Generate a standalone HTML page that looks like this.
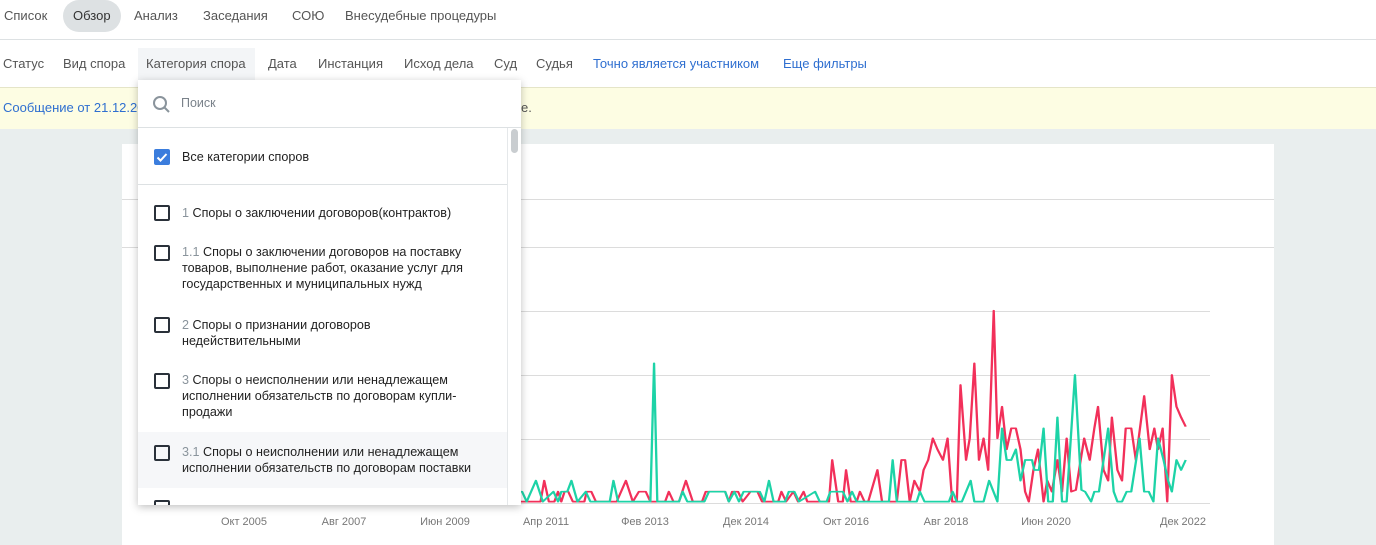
<!DOCTYPE html>
<html><head><meta charset="utf-8"><style>
body{margin:0;width:1376px;height:545px;overflow:hidden;background:#e9eeee;font-family:"Liberation Sans",sans-serif;position:relative}
.a{position:absolute;white-space:nowrap}
.t{font-size:13px;color:#555}
.it{font-size:12.6px;color:#222;line-height:16px;position:absolute;left:44px;width:316px;white-space:normal}
.it span{color:#8a949c}
.cb{position:absolute;left:16px;width:12px;height:12px;border:2px solid #2a313a;border-radius:2px}
.xl{font-size:11px;color:#777;position:absolute;top:516px;transform:translateX(-50%)}
</style></head><body>
<div class="a" style="left:0;top:0;width:1376px;height:87px;background:#fff"></div>
<div class="a" style="left:0;top:39px;width:1376px;height:1px;background:#dde1e3"></div>
<div class="a" style="left:63px;top:0;width:58px;height:32px;background:#dde1e3;border-radius:16px"></div>
<div class="a t" style="left:4px;top:8px">Список</div>
<div class="a t" style="left:73px;top:8px;color:#333">Обзор</div>
<div class="a t" style="left:134px;top:8px">Анализ</div>
<div class="a t" style="left:203px;top:8px">Заседания</div>
<div class="a t" style="left:292px;top:8px">СОЮ</div>
<div class="a t" style="left:345px;top:8px">Внесудебные процедуры</div>
<div class="a" style="left:138px;top:48px;width:117px;height:32px;background:#f3f5f7"></div>
<div class="a t" style="left:3px;top:56px">Статус</div>
<div class="a t" style="left:63px;top:56px">Вид спора</div>
<div class="a t" style="left:146px;top:56px">Категория спора</div>
<div class="a t" style="left:268px;top:56px">Дата</div>
<div class="a t" style="left:318px;top:56px">Инстанция</div>
<div class="a t" style="left:404px;top:56px">Исход дела</div>
<div class="a t" style="left:494px;top:56px">Суд</div>
<div class="a t" style="left:536px;top:56px">Судья</div>
<div class="a t" style="left:593px;top:56px;color:#2f6fd0">Точно является участником</div>
<div class="a t" style="left:783px;top:56px;color:#2f6fd0">Еще фильтры</div>
<div class="a" style="left:0;top:87px;width:1376px;height:41px;background:#fdfde3;border-top:1px solid #e5e5c8"></div>
<div class="a t" style="left:3px;top:100px;color:#2f6fd0">Сообщение от 21.12.20</div>
<div class="a t" style="left:521px;top:100px">е.</div>
<div class="a" style="left:122px;top:144px;width:1152px;height:401px;background:#fff"></div>
<div class="a" style="left:122px;top:199px;width:1152px;height:1px;background:#dcdcdc"></div>
<div class="a" style="left:122px;top:247px;width:1152px;height:1px;background:#dcdcdc"></div>
<svg class="a" style="left:0;top:0" width="1376" height="545">
<g stroke="#dcdcdc" stroke-width="1"><line x1="213" y1="311.5" x2="1210" y2="311.5"/><line x1="213" y1="375.5" x2="1210" y2="375.5"/><line x1="213" y1="439.5" x2="1210" y2="439.5"/><line x1="213" y1="503.5" x2="1210" y2="503.5"/></g>
<g transform="translate(499,290) scale(0.4615,0.3333)" fill="none" stroke-linejoin="round">
<polyline stroke="#f2305a" stroke-width="5" points="-700,635 50,635 90,635 98,572 108,635 120,635 128,605 135,635 142,605 150,605 160,635 185,635 190,605 200,605 210,635 255,635 275,572 290,635 303,605 318,605 328,635 360,635 368,605 378,635 390,635 405,572 420,635 440,635 448,605 490,605 498,635 505,605 518,605 528,635 545,605 560,605 570,635 605,635 612,605 622,635 638,605 648,635 660,605 668,635 715,635 722,510 735,635 745,635 752,540 762,635 775,635 782,605 792,635 800,635 820,540 830,635 862,635 872,510 880,510 890,635 900,572 912,605 920,540 930,510 940,445 950,478 962,510 972,445 982,635 992,635 1000,285 1012,510 1020,445 1030,220 1040,510 1050,445 1060,540 1072,62 1080,445 1090,350 1100,478 1110,415 1120,415 1130,478 1140,605 1148,635 1158,540 1168,478 1180,635 1188,572 1198,605 1210,510 1220,605 1230,445 1240,605 1250,600 1268,445 1280,510 1290,415 1298,350 1310,540 1320,572 1328,382 1340,540 1350,572 1358,415 1370,415 1380,510 1398,318 1410,478 1420,415 1428,478 1438,415 1448,635 1458,255 1468,350 1478,382 1488,410"/>
<polyline stroke="#1dd3a7" stroke-width="5" points="-700,635 30,605 50,605 60,635 80,572 95,635 118,605 128,635 135,605 148,605 157,572 170,635 188,605 198,635 240,635 248,572 258,635 328,635 336,220 343,635 390,635 398,605 408,635 445,635 455,605 490,605 498,635 510,605 520,635 530,605 565,605 575,635 585,572 595,635 620,635 628,605 640,605 650,635 685,605 695,635 710,635 718,605 745,605 755,635 765,605 775,635 845,635 853,510 862,635 905,635 912,605 922,635 975,635 983,605 992,635 1003,635 1022,572 1030,635 1050,635 1062,572 1080,635 1090,415 1100,510 1110,510 1120,478 1130,572 1140,510 1155,510 1160,540 1170,540 1180,415 1190,635 1200,635 1210,382 1220,635 1230,635 1248,255 1262,600 1270,605 1283,635 1290,605 1300,605 1320,415 1332,605 1340,635 1350,635 1360,605 1370,605 1388,445 1398,605 1408,605 1418,635 1428,445 1440,510 1450,572 1458,605 1468,510 1478,540 1488,510"/>
</g></svg>
<div class="xl" style="left:244px">Окт 2005</div>
<div class="xl" style="left:344px">Авг 2007</div>
<div class="xl" style="left:445px">Июн 2009</div>
<div class="xl" style="left:546px">Апр 2011</div>
<div class="xl" style="left:645px">Фев 2013</div>
<div class="xl" style="left:746px">Дек 2014</div>
<div class="xl" style="left:846px">Окт 2016</div>
<div class="xl" style="left:946px">Авг 2018</div>
<div class="xl" style="left:1046px">Июн 2020</div>
<div class="xl" style="left:1183px">Дек 2022</div>

<div class="a" style="left:138px;top:80px;width:383px;height:425px;background:#fff;box-shadow:0 2px 8px rgba(0,0,0,.25);overflow:hidden">
 <svg class="a" style="left:14px;top:15px" width="20" height="20"><circle cx="8" cy="8" r="6" fill="none" stroke="#8a949c" stroke-width="2"/><line x1="12.5" y1="12.5" x2="17" y2="17" stroke="#8a949c" stroke-width="2"/></svg>
 <div class="a" style="left:43px;top:16px;font-size:12.5px;color:#7a828a">Поиск</div>
 <div class="a" style="left:0;top:47px;width:383px;height:1px;background:#dde1e3"></div>
 <div class="a" style="left:369px;top:48px;width:1px;height:377px;background:#e5e8ea"></div>
 <div class="a" style="left:373px;top:49px;width:7px;height:24px;background:#c9cdd0;border-radius:4px"></div>
 <div class="a" style="left:16px;top:69px;width:16px;height:16px;background:#3b7ddd;border-radius:2px"><svg width="16" height="16"><path d="M3.5 8.5l3 3 6-6.5" fill="none" stroke="#fff" stroke-width="2"/></svg></div>
 <div class="it" style="top:69px">Все категории споров</div>
 <div class="a" style="left:0;top:104px;width:369px;height:1px;background:#dde1e3"></div>
 <div class="cb" style="top:125px"></div><div class="it" style="top:125px"><span>1</span> Споры о заключении договоров(контрактов)</div>
 <div class="cb" style="top:165px"></div><div class="it" style="top:164px"><span>1.1</span> Споры о заключении договоров на поставку<br>товаров, выполнение работ, оказание услуг для<br>государственных и муниципальных нужд</div>
 <div class="cb" style="top:237px"></div><div class="it" style="top:237px"><span>2</span> Споры о признании договоров<br>недействительными</div>
 <div class="cb" style="top:293px"></div><div class="it" style="top:292px"><span>3</span> Споры о неисполнении или ненадлежащем<br>исполнении обязательств по договорам купли-<br>продажи</div>
 <div class="a" style="left:0;top:352px;width:369px;height:56px;background:#f6f7f9"></div>
 <div class="cb" style="top:365px"></div><div class="it" style="top:364px"><span>3.1</span> Споры о неисполнении или ненадлежащем<br>исполнении обязательств по договорам поставки</div>
 <div class="cb" style="top:420px"></div>
</div>
</body></html>
